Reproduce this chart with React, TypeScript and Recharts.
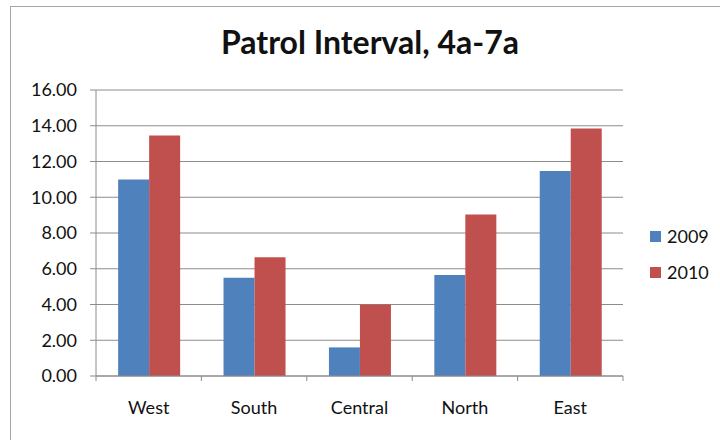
import { Bar, BarChart, CartesianGrid, Legend, XAxis, YAxis } from "recharts";

const regions = ["West", "South", "Central", "North", "East"];
const values2009 = [11.0, 5.5, 1.6, 5.65, 11.47];
const values2010 = [13.45, 6.65, 4.0, 9.03, 13.85];
const yTicks = [0, 2, 4, 6, 8, 10, 12, 14, 16];

const BLUE = "#4F81BD";
const RED = "#C0504D";
const AXIS = "#8c8c8c";
const FONT = "Lato, 'Open Sans', sans-serif";

const data = regions.map((region, i) => ({ region, y2009: values2009[i], y2010: values2010[i] }));

// category ticks sit on the band edges, labels in the middle
const EdgeTick = (props: any) => {
  const { x, y, payload, index } = props;
  const half = payload.offset ?? 0;
  const last = index === regions.length - 1;
  return (
    <g>
      <line x1={x - half} x2={x - half} y1={y - 25} y2={y - 20} stroke={AXIS} />
      {last && <line x1={x + half} x2={x + half} y1={y - 25} y2={y - 20} stroke={AXIS} />}
      <text x={x} y={y} dy="0.71em" textAnchor="middle" fill="#111" fontSize={18} fontFamily={FONT}>
        {payload.value}
      </text>
    </g>
  );
};

const LegendBox = () => (
  <div style={{ width: 80, fontFamily: FONT, fontSize: 18, color: "#111" }}>
    {[
      { name: "2009", color: BLUE },
      { name: "2010", color: RED },
    ].map((item) => (
      <div key={item.name} style={{ height: 36, display: "flex", alignItems: "center" }}>
        <span style={{ width: 11, height: 11, background: item.color, marginRight: 6, display: "inline-block" }} />
        {item.name}
      </div>
    ))}
  </div>
);

export default function App() {
  return (
    <div style={{ position: "absolute", left: 0, top: 0, width: 720, height: 440, overflow: "hidden", background: "#fff" }}>
      <div style={{ position: "absolute", left: 10, top: 6, width: 740, height: 460, border: "1px solid #a6a6a6" }} />
      <div
        style={{
          position: "absolute",
          left: 0,
          width: 740,
          top: 22,
          textAlign: "center",
          fontFamily: FONT,
          fontWeight: 700,
          fontSize: 32,
          color: "#111",
        }}
      >
        Patrol Interval, 4a-7a
      </div>
      <BarChart
        width={720}
        height={440}
        data={data}
        margin={{ top: 90, right: 17, bottom: 0, left: 10 }}
        barCategoryGap="21%"
        barGap={0}
        style={{ position: "absolute", left: 0, top: 0 }}
      >
        <CartesianGrid vertical={false} stroke={AXIS} strokeDasharray="" />
        <XAxis
          dataKey="region"
          stroke={AXIS}
          tickLine={false}
          tickSize={5}
          tickMargin={20}
          height={64}
          tick={<EdgeTick />}
        />
        <YAxis
          domain={[0, 16]}
          ticks={yTicks}
          width={86}
          stroke={AXIS}
          tickSize={6}
          tickMargin={13}
          tickFormatter={(v: number) => v.toFixed(2)}
          tick={{ fill: "#111", fontSize: 18, fontFamily: FONT }}
        />
        <Legend
          layout="vertical"
          align="right"
          verticalAlign="middle"
          content={<LegendBox />}
          wrapperStyle={{ width: 80, left: 650, top: 218 }}
        />
        <Bar dataKey="y2009" name="2009" fill={BLUE} isAnimationActive={false} />
        <Bar dataKey="y2010" name="2010" fill={RED} isAnimationActive={false} />
      </BarChart>
    </div>
  );
}
